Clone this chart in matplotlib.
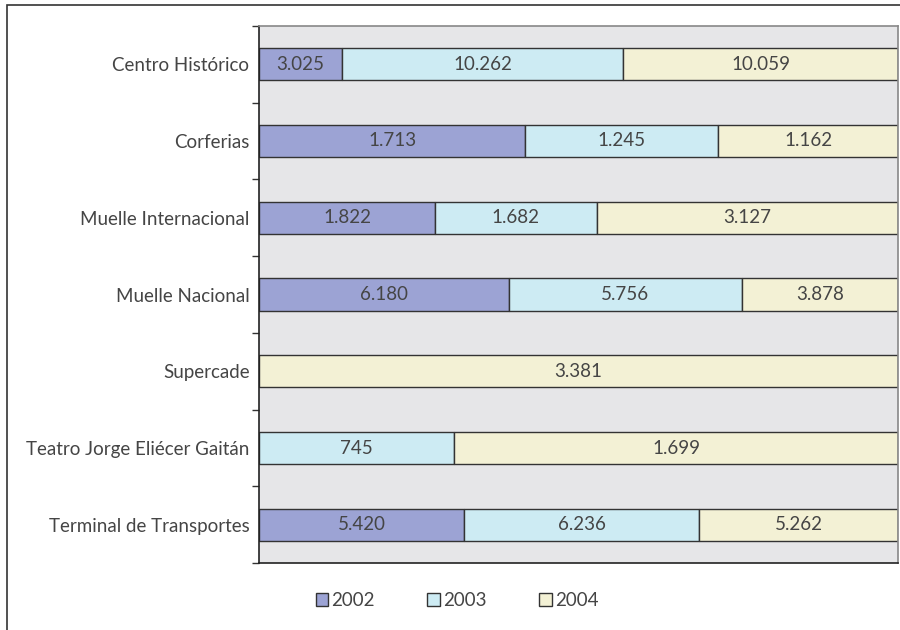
import matplotlib.pyplot as plt
from matplotlib.patches import Rectangle
import numpy as np

# Datos
lugares = ['Centro Histórico', 'Corferias', 'Muelle Internacional', 'Muelle Nacional',
           'Supercade', 'Teatro Jorge Eliécer Gaitán', 'Terminal de Transportes']
anios = ['2002', '2003', '2004']
v2002 = [3025, 1713, 1822, 6180, 0, 0, 5420]
v2003 = [10262, 1245, 1682, 5756, 0, 745, 6236]
v2004 = [10059, 1162, 3127, 3878, 3381, 1699, 5262]

colores = ['#9ca3d4', '#cdebf3', '#f3f1d5']
texto = '#454545'

plt.rcParams['font.family'] = ['Lato', 'DejaVu Sans']


def fmt(v):
    return f'{v:,}'.replace(',', '.')


fig = plt.figure(figsize=(9, 6.3), dpi=100)
ax = fig.add_axes([0.288, 0.106, 0.71, 0.853])
ax.set_facecolor('#e6e6e8')

# marco exterior
fig.patches.append(Rectangle((7 / 900, -0.1), 1.2, 1 - 5 / 630 + 0.1,
                             transform=fig.transFigure, fill=False,
                             edgecolor='#333333', linewidth=1.2))

series = np.array([v2002, v2003, v2004], dtype=float)
totales = series.sum(axis=0)
y = np.arange(len(lugares))
izq = np.zeros(len(lugares))
for serie, anio, color in zip(series, anios, colores):
    frac = serie / totales
    ax.barh(y, frac, left=izq, height=0.42, color=color, edgecolor='#333333',
            linewidth=1.0, label=anio)
    for i in range(len(lugares)):
        if serie[i] > 0:
            ax.text(izq[i] + frac[i] / 2, y[i], fmt(int(serie[i])), ha='center',
                    va='center', fontsize=13.5, color=texto)
    izq += frac

ax.set_xlim(0, 1)
ax.set_ylim(len(lugares) - 0.5, -0.5)
ax.set_xticks([])
ax.set_yticks(np.arange(-0.5, len(lugares)), labels=[])
ax.set_yticks(y, labels=lugares, minor=True)
ax.tick_params(axis='y', which='major', length=5, width=1, color='#333333', direction='out')
ax.tick_params(axis='y', which='minor', length=0, pad=7, labelsize=13.5, labelcolor=texto)

for lado in ['left', 'bottom']:
    ax.spines[lado].set_color('#222222')
    ax.spines[lado].set_linewidth(1.2)
for lado in ['top', 'right']:
    ax.spines[lado].set_color('#888888')
    ax.spines[lado].set_linewidth(1.2)

leg = fig.legend(loc='center', bbox_to_anchor=(0.508, 0.047), ncol=3, frameon=False,
                 handlelength=0.65, handleheight=0.65, handletextpad=0.2,
                 columnspacing=2.8, prop={'size': 13.5})
for t in leg.get_texts():
    t.set_color(texto)

fig.savefig('out.png', dpi=100)
